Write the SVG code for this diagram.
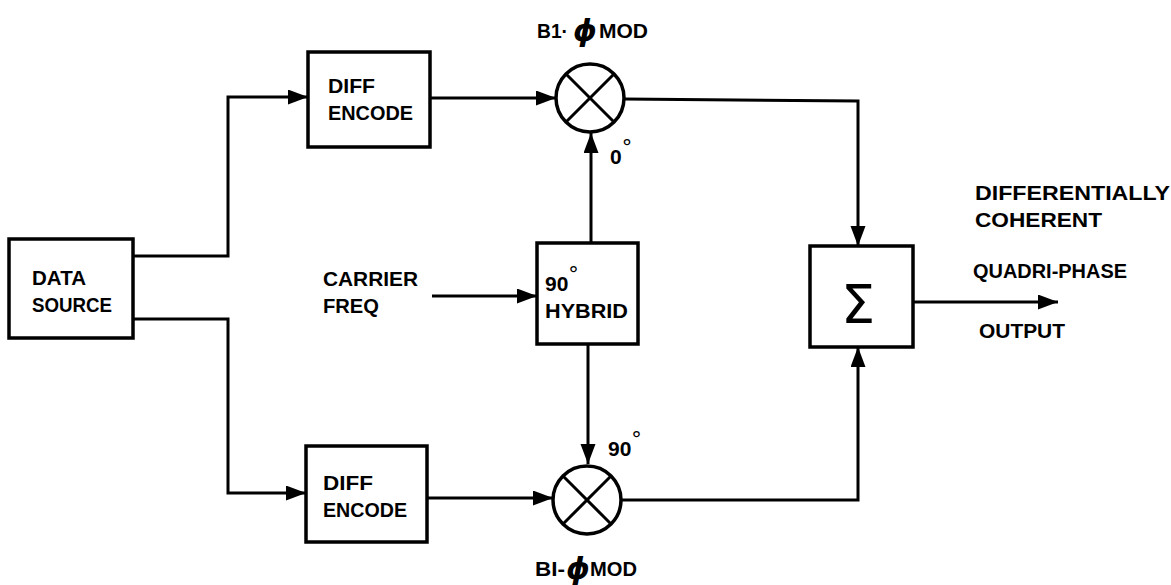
<svg xmlns="http://www.w3.org/2000/svg" width="1171" height="585" viewBox="0 0 1171 585">
<defs>
<style>
.box{fill:none;stroke:#000;stroke-width:3.5}
.ln{fill:none;stroke:#000;stroke-width:3;stroke-linejoin:miter}
.t{font-family:"Liberation Sans",Arial,sans-serif;font-weight:bold;font-size:21px;fill:#000}
.phi{font-family:"DejaVu Sans",sans-serif;font-weight:bold;font-style:oblique;font-size:30px;fill:#000}
.deg{font-family:"DejaVu Sans",sans-serif;font-weight:normal;font-size:21px}
.sig{font-family:"DejaVu Sans","Liberation Sans",sans-serif;font-size:54px;fill:#000}
</style>
<marker id="ah" markerUnits="userSpaceOnUse" markerWidth="22" markerHeight="16" refX="20" refY="7.5" orient="auto">
<path d="M0,0 L20,7.5 L0,15 Z" fill="#000"/>
</marker>
</defs>
<rect width="1171" height="585" fill="#fff"/>

<g id="connectors">
<polyline class="ln" points="133,256 228,256 228,97 308,97" marker-end="url(#ah)"/>
<polyline class="ln" points="133,319 228,319 228,493 306,493" marker-end="url(#ah)"/>
<line class="ln" x1="430" y1="98" x2="556" y2="98" marker-end="url(#ah)"/>
<line class="ln" x1="427" y1="498" x2="553" y2="498" marker-end="url(#ah)"/>
<line class="ln" x1="591" y1="243" x2="591" y2="133" marker-end="url(#ah)"/>
<line class="ln" x1="588" y1="344" x2="588" y2="464" marker-end="url(#ah)"/>
<line class="ln" x1="432" y1="296" x2="537" y2="296" marker-end="url(#ah)"/>
<polyline class="ln" points="624,99 858,101 858,246" marker-end="url(#ah)"/>
<polyline class="ln" points="621,500 858,500 858,347" marker-end="url(#ah)"/>
<line class="ln" x1="913" y1="302" x2="1058" y2="302" marker-end="url(#ah)"/>
</g>

<g id="data-source">
<rect class="box" x="9" y="239" width="124" height="99"/>
<text class="t" x="32" y="285" textLength="54" lengthAdjust="spacingAndGlyphs">DATA</text>
<text class="t" x="32" y="312" textLength="80" lengthAdjust="spacingAndGlyphs">SOURCE</text>
</g>

<g id="diff-encode-top">
<rect class="box" x="308" y="52" width="122" height="95"/>
<text class="t" x="328" y="93" textLength="47" lengthAdjust="spacingAndGlyphs">DIFF</text>
<text class="t" x="328" y="120" textLength="85" lengthAdjust="spacingAndGlyphs">ENCODE</text>
</g>

<g id="diff-encode-bottom">
<rect class="box" x="306" y="446" width="121" height="96"/>
<text class="t" x="323" y="490" textLength="50" lengthAdjust="spacingAndGlyphs">DIFF</text>
<text class="t" x="323" y="517" textLength="84" lengthAdjust="spacingAndGlyphs">ENCODE</text>
</g>

<g id="mod-top">
<circle class="box" cx="590" cy="98" r="34"/>
<line class="ln" x1="566" y1="74" x2="614" y2="122"/>
<line class="ln" x1="614" y1="74" x2="566" y2="122"/>
<text class="t" x="537" y="38"><tspan textLength="31" lengthAdjust="spacingAndGlyphs">B1·</tspan><tspan class="phi" x="585" y="41" text-anchor="middle">ϕ</tspan><tspan x="599" y="38" textLength="49" lengthAdjust="spacingAndGlyphs">MOD</tspan></text>
<text class="t" x="610" y="164">0<tspan class="deg" dy="-9">°</tspan></text>
</g>

<g id="mod-bottom">
<circle class="box" cx="587" cy="500" r="34"/>
<line class="ln" x1="563" y1="476" x2="611" y2="524"/>
<line class="ln" x1="611" y1="476" x2="563" y2="524"/>
<text class="t" x="535" y="576"><tspan textLength="30" lengthAdjust="spacingAndGlyphs">BI-</tspan><tspan class="phi" x="578" y="579" text-anchor="middle">ϕ</tspan><tspan x="590" y="576" textLength="47" lengthAdjust="spacingAndGlyphs">MOD</tspan></text>
<text class="t" x="608" y="456">90<tspan class="deg" dy="-9">°</tspan></text>
</g>

<g id="carrier">
<text class="t" x="323" y="286" textLength="95" lengthAdjust="spacingAndGlyphs">CARRIER</text>
<text class="t" x="323" y="313" textLength="56" lengthAdjust="spacingAndGlyphs">FREQ</text>
</g>

<g id="hybrid">
<rect class="box" x="537" y="243" width="101" height="101"/>
<text class="t" x="545" y="291">90<tspan class="deg" dy="-9">°</tspan></text>
<text class="t" x="545" y="318" textLength="83" lengthAdjust="spacingAndGlyphs">HYBRID</text>
</g>

<g id="sum">
<rect class="box" x="810" y="246" width="103" height="101"/>
<text class="sig" x="858" y="323" text-anchor="middle">Σ</text>
</g>

<g id="output-label">
<text class="t" x="975" y="200" textLength="195" lengthAdjust="spacingAndGlyphs">DIFFERENTIALLY</text>
<text class="t" x="975" y="227" textLength="127" lengthAdjust="spacingAndGlyphs">COHERENT</text>
<text class="t" x="973" y="278" textLength="154" lengthAdjust="spacingAndGlyphs">QUADRI-PHASE</text>
<text class="t" x="979" y="338" textLength="86" lengthAdjust="spacingAndGlyphs">OUTPUT</text>
</g>
</svg>
